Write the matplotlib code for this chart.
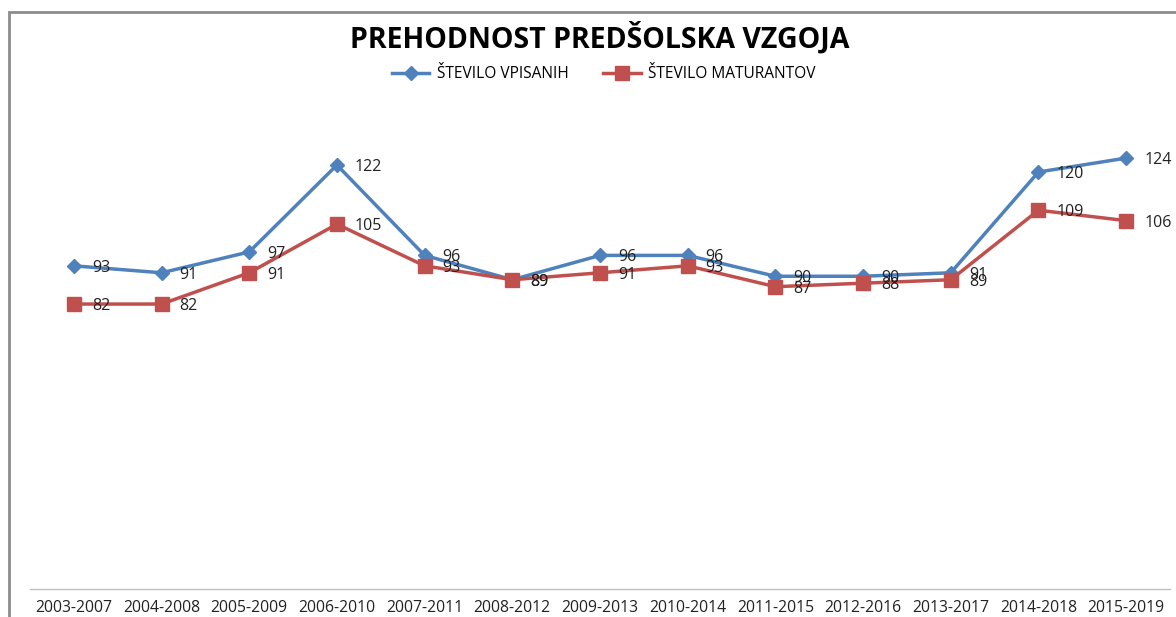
import matplotlib
matplotlib.use('Agg')
import matplotlib.pyplot as plt
from matplotlib.patches import Rectangle

periods = ['2003-2007', '2004-2008', '2005-2009', '2006-2010', '2007-2011', '2008-2012',
           '2009-2013', '2010-2014', '2011-2015', '2012-2016', '2013-2017', '2014-2018', '2015-2019']
vpisani = [93, 91, 97, 122, 96, 89, 96, 96, 90, 90, 91, 120, 124]
maturanti = [82, 82, 91, 105, 93, 89, 91, 93, 87, 88, 89, 109, 106]

blue = '#4F81BD'
red = '#C0504D'
font = 'Open Sans'
plt.rcParams['font.family'] = [font, 'DejaVu Sans']

W, H = 1176, 617
fig = plt.figure(figsize=(W / 100, H / 100), dpi=100)
ax = fig.add_axes([30 / W, 28 / H, 1140 / W, (589 - 102.5) / H])

x = list(range(len(periods)))
ax.plot(x, vpisani, color=blue, lw=2.5, marker='D', markersize=7, label='ŠTEVILO VPISANIH')
ax.plot(x, maturanti, color=red, lw=2.5, marker='s', markersize=10, label='ŠTEVILO MATURANTOV')

# data labels to the right of each point
for i, v in enumerate(vpisani):
    ax.annotate(str(v), (i, v), xytext=(13, -1.5), textcoords='offset points',
                va='center', ha='left', fontsize=11.5, color='#222222')
for i, v in enumerate(maturanti):
    ax.annotate(str(v), (i, v), xytext=(13, -1.5), textcoords='offset points',
                va='center', ha='left', fontsize=11.5, color='#222222')

ax.set_xlim(-0.5, len(periods) - 0.5)
ax.set_ylim(0, 140)
ax.set_xticks(x)
ax.set_xticklabels(periods, fontsize=11.3, color='#222222')
ax.tick_params(axis='x', length=0, pad=8)
ax.set_yticks([])
for s in ['left', 'right', 'top']:
    ax.spines[s].set_visible(False)
ax.spines['bottom'].set_color('#BFBFBF')
ax.spines['bottom'].set_linewidth(1)

fig.text(600 / W, 1 - 38 / H, 'PREHODNOST PREDŠOLSKA VZGOJA', ha='center', va='center',
         fontsize=20.5, fontweight='bold', color='black')
fig.legend(loc='center', bbox_to_anchor=(604 / W, 1 - 74 / H), ncol=2, frameon=False,
           fontsize=11.2, handlelength=2.4, columnspacing=2.2, handletextpad=0.5)

# chart border (top and left visible)
fig.patches.append(Rectangle((9 / W, -0.1), 1.2, 1 - 12 / H + 0.1, transform=fig.transFigure,
                             fill=False, edgecolor='#8C8C8C', lw=2))

fig.savefig('out.png', dpi=100)
